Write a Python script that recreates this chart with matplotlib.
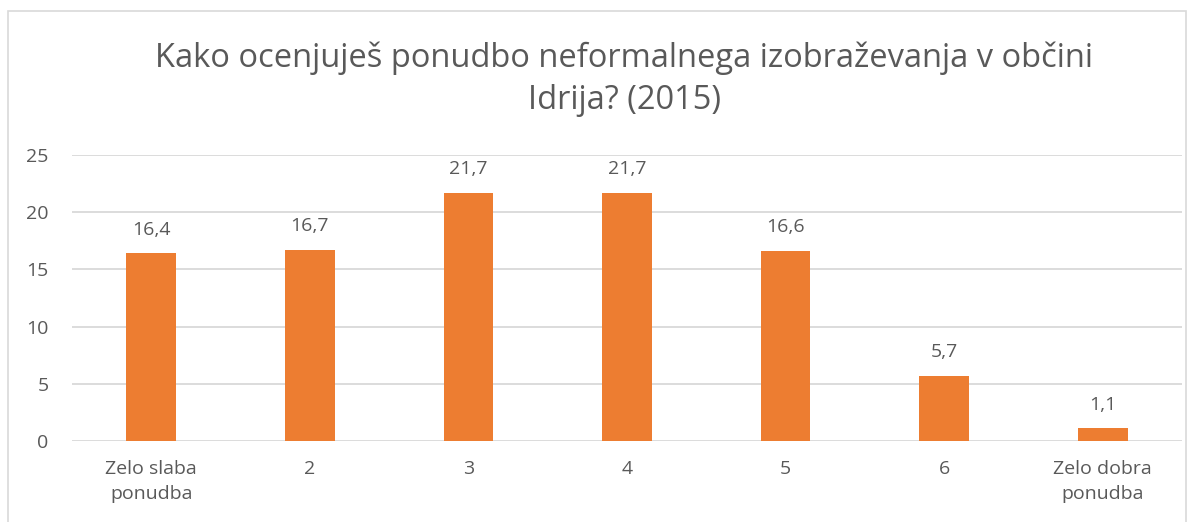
import matplotlib.pyplot as plt
from matplotlib.patches import Rectangle

categories = ["Zelo slaba\nponudba", "2", "3", "4", "5", "6", "Zelo dobra\nponudba"]
values = [16.4, 16.7, 21.7, 21.7, 16.6, 5.7, 1.1]
labels = ["16,4", "16,7", "21,7", "21,7", "16,6", "5,7", "1,1"]
yticks = [0, 5, 10, 15, 20, 25]

plt.rcParams["font.family"] = ["Open Sans", "DejaVu Sans"]
TXT = "#595959"
GRID = "#D9D9D9"

fig = plt.figure(figsize=(11.98, 5.22), dpi=100)
ax = fig.add_axes([72 / 1198, 1 - 441 / 522, 1110 / 1198, 286 / 522])

x = range(len(values))
ax.bar(x, values, width=0.313, color="#ED7D31", zorder=3)
for xi, v, lab in zip(x, values, labels):
    ax.text(xi, v + 1.3, lab, ha="center", va="bottom", fontsize=14, color=TXT)

ax.set_xlim(-0.5, len(values) - 0.5)
ax.set_ylim(0, 25)
ax.set_yticks(yticks)
ax.set_yticklabels([str(t) for t in yticks], fontsize=14, color=TXT)
ax.set_xticks(list(x))
ax.set_xticklabels(categories, fontsize=14, color=TXT, linespacing=1.45)
ax.tick_params(axis="both", length=0)
ax.tick_params(axis="y", pad=17)
ax.tick_params(axis="x", pad=14)
ax.grid(axis="y", color=GRID, linewidth=1.3, zorder=0)
for s in ax.spines.values():
    s.set_visible(False)

fig.text(624 / 1198, 1 - 79 / 522,
         "Kako ocenjuješ ponudbo neformalnega izobraževanja v občini\nIdrija? (2015)",
         ha="center", va="center", fontsize=23.5, color=TXT, linespacing=1.35)

# chart border
fig.patches.append(Rectangle((8 / 1198, -0.1), 1178 / 1198, 1.1 - 11 / 522,
                             transform=fig.transFigure, fill=False,
                             edgecolor=GRID, linewidth=1.2))

fig.savefig("out.png", dpi=100)
